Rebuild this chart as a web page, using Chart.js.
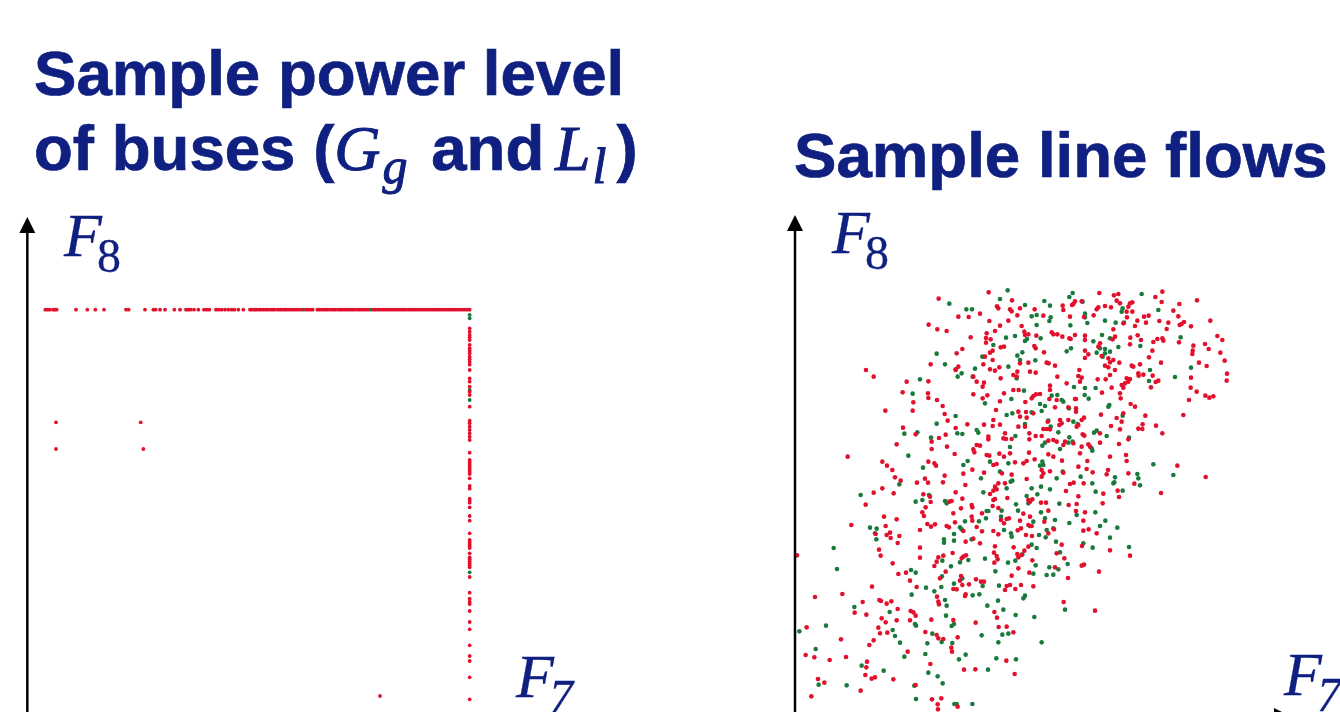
<!DOCTYPE html>
<html>
<head>
<meta charset="utf-8">
<title>Sample power level and line flows</title>
<script src="https://cdn.jsdelivr.net/npm/chart.js@4"></script>
<style>
    html, body { margin: 0; padding: 0; background: #fff; width: 1340px; height: 712px; overflow: hidden; }
    canvas { position: absolute; top: 200px; }
    #busChart { left: 0; }
    #flowChart { left: 780px; }
    .title, .axis-name { position: absolute; color: #0f2080; white-space: nowrap; }
    .title { font: bold 63.6px "Liberation Sans", sans-serif; line-height: 74px; -webkit-text-stroke: 0.7px #0f2080; }
    .title i, .axis-name { font-family: "Liberation Serif", serif; font-weight: normal; }
    .title i { font-style: italic; font-size: 64px; -webkit-text-stroke: 1px #0f2080; }
    .title i.first { margin-right: 6px; }
    .title i.second { margin-left: -7px; margin-right: 10px; }
    .title sub { font-size: 50px; line-height: 0; vertical-align: -13px; margin-left: 2px; }
    .axis-name { font-style: italic; font-size: 62px; line-height: 62px; -webkit-text-stroke: 0.3px #0f2080; }
    .axis-name sub { font-size: 48px; line-height: 0; vertical-align: -16px; margin-left: -5px; }
    .axis-name sub.up { font-style: normal; }
</style>
</head>
<body>
<div class="title" style="left:34px;top:36px">Sample power level</div>
<div class="title" style="left:34px;top:111px">of buses (<i class="first">G<sub>g</sub></i> and <i class="second">L<sub>l</sub></i>)</div>
<div class="title" style="left:794px;top:118px">Sample line flows</div>
<canvas id="busChart" width="780" height="512"></canvas>
<canvas id="flowChart" width="560" height="512"></canvas>
<div class="axis-name" style="left:64px;top:204px">F<sub class="up">8</sub></div>
<div class="axis-name" style="left:832px;top:201px">F<sub class="up">8</sub></div>
<div class="axis-name" style="left:516px;top:645px">F<sub>7</sub></div>
<div class="axis-name" style="left:1284px;top:643px">F<sub>7</sub></div>
<script>
// Bus power levels: most samples sit on the F8 limit (top row) or the F7 limit (right column)
const busLimitF7 = 1409;
const busLimitF8 = 1207;
const busTopRowX = [136, 143, 150, 160, 165, 170, 228, 262, 286, 312, 378, 386, 435, 460, 467, 480, 495, 523, 540, 558, 565, 572, 582, 595, 612, 620, 628, 648, 656, 665, 675, 685, 695, 703, 715, 730,
    750, 756, 763, 769, 776, 782, 790, 797, 803, 811, 818, 824, 833, 840, 846, 853, 859, 866, 874, 881, 888, 895, 903, 918, 925, 932, 938, 952, 958, 965, 972, 979, 985, 993, 1000, 1006, 1014, 1021, 1027, 1034, 1041, 1048, 1055, 1061, 1069, 1076, 1083, 1090, 1097, 1104,
    1120, 1127, 1134, 1140, 1148, 1155, 1162, 1169, 1176, 1183, 1190, 1197, 1204, 1211, 1218, 1226, 1233, 1240, 1247, 1254, 1261, 1268, 1276, 1283, 1290, 1297, 1304, 1311, 1318, 1325, 1332, 1339, 1346, 1353, 1360, 1367, 1374, 1381, 1388, 1395, 1402, 1409];
const busRightColY = [1151, 1141, 1131, 1124, 1116, 1101, 1091, 1084, 1076, 1066, 1058, 1050, 1042, 1026, 1001, 991, 976, 961, 951, 916, 874, 866, 856, 846, 836, 826, 816, 778, 756,
    750, 744, 738, 732, 726, 720, 714, 701, 678, 670, 640, 634, 628, 614, 588, 574, 536, 516, 510, 504, 498, 492, 476, 464, 458, 452, 446, 440, 434, 405, 358, 340, 331, 324, 303, 270, 248, 200, 168, 153, 104, 38];
const busGreenTopX = [910, 1112];
const busGreenRightY = [1191, 1181, 966, 936, 419];
const busOtherRed = [[168, 869], [422, 869], [168, 789], [430, 789], [1140, 48]];

// Line flows, red samples
const flowRed = [
    [626,1259],[476,1240],[1147,1261],[958,1257],[1015,1254],[1002,1250],[1126,1245],[696,1235],[1145,1230],[1251,1235],[1198,1224],[1010,1234],[1020,1226],[1057,1229],[1050,1226],[905,1232],[885,1232],[880,1224],[848,1219],[876,1221],
    [651,1217],[655,1211],[690,1208],[695,1202],[720,1211],[764,1208],[850,1206],[955,1214],[950,1208],[993,1214],[975,1218],[1045,1216],[1057,1201],[1040,1201],[1180,1204],[535,1186],[566,1185],[600,1195],[712,1190],[790,1189],
    [870,1186],[912,1185],[941,1190],[1092,1186],[1106,1189],[1195,1187],[1041,1184],[1291,1174],[685,1174],[628,1173],[660,1159],[446,1162],[472,1148],[500,1143],[645,1143],[725,1158],[733,1141],[1065,1158],[1072,1174],[1098,1168],
    [1138,1173],[1165,1168],[1160,1149],[1205,1164],[1212,1170],[1199,1161],[1233,1157],[1000,1148],[1030,1166],[815,1139],[820,1133],[832,1133],[847,1126],[885,1131],[868,1121],[915,1129],[915,1116],[735,1131],[745,1133],[769,1129],
    [572,1124],[620,1136],[618,1122],[632,1118],[618,1108],[1051,1123],[1073,1130],[1050,1103],[1083,1116],[1120,1110],[1132,1119],[1147,1121],[1150,1114],[1197,1109],[1240,1099],[1238,1084],[1237,1074],[1312,1128],[1327,1116],[1275,1104],
    [1286,1089],[1321,1078],[1334,1054],[1280,1038],[1257,1048],[1341,1015],[1340,994],[1233,1003],[1232,973],[1250,961],[1276,949],[1288,943],[1300,947],[1227,936],[1210,891],[1143,1048],[1107,1064],[1117,1084],[1080,1043],[1075,1016],
    [1076,1009],[1090,1012],[1118,1009],[1135,994],[1127,990],[1113,974],[1055,1039],[1060,1036],[1018,1048],[1005,1026],[985,1061],[990,1049],[1000,1056],[975,1039],[985,1034],[990,1011],[977,998],[953,998],[898,1026],[895,1008],
    [905,1003],[900,991],[860,986],[810,979],[810,966],[832,1006],[915,1084],[925,1073],[915,1062],[960,1106],[955,1096],[965,1068],[872,1119],[1005,1126],[998,1118],[1050,999],[1040,1001],[1035,986],[1025,981],[1030,973],
    [1045,991],[1022,941],[1020,956],[995,973],[966,958],[888,939],[768,953],[760,948],[755,941],[780,954],[736,930],[716,966],[700,966],[672,956],[622,950],[608,941],[580,953],[660,932],[612,988],[608,976],
    [590,991],[580,1006],[662,1001],[700,1011],[712,1021],[750,1021],[767,1018],[710,1006],[720,1046],[745,1048],[800,1048],[806,1046],[825,1039],[767,1091],[763,1098],[792,1079],[662,1094],[672,1096],[638,1084],[630,1078],
    [615,1066],[638,1056],[610,1043],[630,1028],[645,1024],[658,1034],[530,1076],[547,1089],[452,1043],[445,992],[380,991],[368,959],[444,956],[445,942],[400,929],[398,904],[471,936],[488,918],[494,894],[503,874],
    [316,904],[258,1026],[281,1006],[527,1026],[535,1036],[648,906],[660,862],[640,876],[612,862],[638,858],[562,863],[527,852],[497,832],[477,822],[455,811],[455,789],[501,796],[350,803],[369,853],[407,833],
    [203,766],[625,826],[625,818],[590,801],[600,799],[580,788],[583,779],[620,771],[628,769],[658,775],[672,766],[690,776],[747,778],[805,773],[820,766],[1038,771],[900,776],[990,766],[1017,804],[1045,818],
    [1088,863],[1087,849],[1075,850],[1128,859],[1147,836],[1096,889],[1065,916],[1052,924],[1030,896],[1010,882],[1025,871],[1020,848],[993,858],[963,892],[960,836],[960,808],[908,833],[913,829],[925,803],[930,796],
    [905,796],[880,806],[855,811],[850,801],[830,811],[820,816],[805,814],[785,828],[767,828],[748,818],[748,836],[715,856],[740,883],[715,901],[720,886],[738,900],[760,896],[825,914],[865,914],[888,911],
    [888,901],[905,876],[912,883],[895,861],[890,856],[865,876],[840,876],[838,861],[845,866],[803,871],[800,849],[810,848],[790,849],[675,836],[670,821],[678,819],[695,819],[830,936],[808,939],[885,939],[735,856],
    [307,751],[321,739],[337,726],[345,704],[362,694],[411,688],[435,700],[444,688],[445,751],[463,746],[468,739],[524,774],[705,749],[730,746],[740,753],[764,758],[846,754],[640,741],[650,744],[577,727],
    [550,715],[494,709],[489,689],[612,718],[666,716],[695,712],[740,699],[785,726],[790,716],[785,706],[810,722],[850,718],[1040,753],[922,753],[895,736],[920,729],[938,719],[984,726],[980,713],[1045,716],
    [1063,685],[1192,739],[1277,705],[1143,657],[1017,645],[1013,664],[968,626],[970,655],[895,647],[881,688],[870,684],[911,686],[858,663],[890,624],[866,621],[915,599],[888,603],[910,574],[910,544],[926,548],
    [950,536],[906,498],[990,485],[1050,469],[957,421],[945,304],[912,442],[905,439],[864,402],[851,330],[845,502],[830,476],[853,461],[825,434],[760,377],[723,381],[706,369],[690,381],[680,378],[675,366],
    [695,409],[748,418],[757,455],[715,431],[715,464],[712,474],[725,471],[733,484],[745,496],[701,494],[645,497],[642,478],[650,468],[653,458],[643,448],[600,506],[557,511],[580,520],[420,493],[420,463],
    [518,477],[490,469],[475,464],[470,451],[463,438],[550,466],[558,470],[545,461],[338,446],[355,414],[378,418],[390,394],[410,375],[480,401],[497,421],[543,408],[540,394],[547,381],[567,383],[588,398],
    [603,391],[612,391],[520,369],[530,368],[555,348],[557,353],[471,346],[475,331],[477,323],[276,376],[187,354],[105,345],[248,330],[298,336],[303,333],[320,325],[334,332],[224,298],[259,292],[353,309],
    [392,303],[400,299],[407,289],[454,277],[390,275],[350,275],[305,281],[317,269],[295,253],[300,236],[322,238],[436,240],[470,231],[475,221],[490,219],[533,224],[520,276],[587,268],[643,300],[651,283],
    [656,255],[680,256],[700,239],[80,254],[183,218],[281,215],[268,201],[383,181],[77,171],[103,164],[149,156],[198,165],[261,151],[259,134],[256,111],[275,100],[285,104],[340,98],[114,99],[133,88],
    [94,47],[242,64],[451,144],[552,127],[586,128],[679,154],[704,114],[516,181],[514,193],[407,81],[456,38],[484,41],[473,23],[474,8],[533,16],[297,487],[302,469],[51,470],[214,561],[257,622],
    [281,658],[307,671],[341,656],[312,586],[350,578],[317,558],[287,534],[330,538],[320,531],[332,522],[358,528],[353,507],[430,653],[437,614],[427,599],[432,588],[442,564],[453,556],[465,563],[420,546],
    [450,646],[452,630],[527,659],[547,640],[515,633],[508,631],[556,681],[575,621],[577,614],[543,611],[520,596],[500,558],[507,554],[525,569],[550,543],[575,586],[577,574],[606,596],[590,555],[606,542],
    [640,543],[655,533],[640,636],[645,639],[650,668],[645,676],[640,664],[630,654],[655,686],[675,686],[682,642],[638,618],[655,612],[663,576],[672,566],[680,579],[687,581],[720,574],[730,595],[750,586],
    [723,551],[713,545],[745,561],[755,558],[738,531],[756,528],[745,636],[750,631],[757,638],[783,628],[798,628],[805,604],[793,571],[805,536],[822,548]
];

// Line flows, green samples
const flowGreen = [
    [683,1265],[878,1257],[868,1245],[1085,1254],[660,1239],[508,1225],[559,1208],[576,1208],[735,1221],[793,1233],[810,1219],[908,1231],[1028,1211],[1025,1201],[1135,1206],[915,1195],[915,1184],[770,1191],[755,1187],[812,1184],
    [808,1173],[770,1161],[871,1160],[922,1167],[975,1174],[1007,1168],[1032,1168],[705,1128],[678,1123],[741,1119],[735,1113],[782,1121],[966,1131],[990,1121],[1202,1124],[640,1101],[470,1075],[495,1043],[1015,1095],[1081,1098],
    [940,1112],[960,1091],[975,1089],[990,1081],[975,1076],[968,1066],[950,1078],[873,1091],[860,1082],[727,1079],[712,1069],[720,1056],[766,1055],[607,1066],[685,1036],[585,1030],[527,1028],[545,1016],[533,1006],[578,1006],
    [420,998],[710,1001],[1110,1026],[1107,993],[1185,1005],[1233,1033],[882,975],[915,972],[947,972],[914,951],[926,940],[732,964],[694,939],[615,926],[398,955],[815,949],[832,951],[850,931],[845,936],[867,911],
    [780,924],[795,918],[785,903],[755,899],[697,896],[680,891],[527,888],[470,865],[988,921],[985,916],[1028,889],[805,874],[880,871],[893,864],[812,856],[735,864],[590,846],[595,838],[532,836],[547,834],
    [412,839],[373,835],[453,823],[706,828],[835,839],[868,824],[878,811],[865,808],[795,808],[787,799],[950,844],[942,838],[980,828],[1047,823],[690,795],[840,789],[935,791],[937,784],[385,769],
    [429,733],[550,741],[563,753],[630,751],[685,746],[660,721],[787,751],[790,741],[780,739],[848,721],[830,701],[902,706],[937,686],[1005,704],[1003,689],[1000,686],[1072,714],[1075,701],[1080,680],[1120,743],
    [1180,711],[1028,664],[947,661],[810,668],[783,676],[755,671],[772,653],[740,648],[745,626],[708,623],[714,604],[783,599],[838,625],[890,591],[946,599],[976,574],[960,558],[1012,553],[990,523],[1047,495],
    [938,493],[910,506],[868,567],[825,576],[795,581],[760,571],[750,558],[800,546],[820,551],[797,524],[777,531],[693,536],[695,526],[672,546],[620,603],[625,603],[665,604],[663,586],[618,581],[597,572],
    [555,572],[540,554],[545,548],[522,534],[522,514],[492,518],[492,508],[575,518],[603,701],[610,659],[680,671],[697,694],[692,691],[358,683],[242,651],[407,631],[427,636],[447,651],[495,633],[500,626],
    [270,553],[290,550],[285,536],[289,518],[161,492],[171,429],[393,426],[407,418],[487,454],[513,437],[540,449],[565,456],[615,460],[646,422],[684,448],[706,454],[727,473],[755,502],[770,492],[828,511],
    [840,479],[767,440],[808,434],[835,428],[863,444],[760,415],[800,411],[820,412],[486,407],[547,401],[522,385],[484,375],[438,373],[463,362],[395,352],[608,378],[657,379],[578,350],[598,353],[495,336],
    [500,319],[622,319],[654,334],[670,307],[707,291],[763,285],[730,341],[735,349],[498,289],[405,264],[408,259],[515,258],[522,264],[138,259],[223,315],[329,300],[58,242],[338,246],[345,228],[360,208],
    [457,235],[442,206],[485,210],[517,207],[605,230],[667,232],[685,235],[655,209],[785,209],[107,189],[436,174],[373,166],[557,172],[537,158],[649,161],[708,158],[245,139],[311,124],[445,118],[473,107],
    [488,86],[624,127],[116,82],[200,80],[403,79],[408,39],[523,24],[530,24],[577,24],[855,307]
];

const red = '#e2102c';
const green = '#1a7a3e';

function toPoints(pairs) {
    return pairs.map(p => ({ x: p[0], y: p[1] }));
}

// Plain arrow-headed axes, drawn through the chart scales
function axesPlugin(originX, originY, yTip, xTip) {
    return {
        id: 'arrowAxes',
        afterDraw(chart) {
            const { ctx, scales } = chart;
            const x0 = scales.x.getPixelForValue(originX);
            const y0 = scales.y.getPixelForValue(originY);
            const top = scales.y.getPixelForValue(yTip);
            ctx.save();
            ctx.strokeStyle = '#000';
            ctx.fillStyle = '#000';
            ctx.lineWidth = 2.5;
            ctx.beginPath();
            ctx.moveTo(x0, chart.height + 10);
            ctx.lineTo(x0, top + 10);
            ctx.stroke();
            ctx.beginPath();
            ctx.moveTo(x0, top);
            ctx.lineTo(x0 - 8, top + 16);
            ctx.lineTo(x0 + 8, top + 16);
            ctx.closePath();
            ctx.fill();
            if (xTip) {
                const right = scales.x.getPixelForValue(xTip);
                ctx.beginPath();
                ctx.moveTo(x0, y0);
                ctx.lineTo(right - 10, y0);
                ctx.stroke();
                ctx.beginPath();
                ctx.moveTo(right, y0);
                ctx.lineTo(right - 16, y0 - 8);
                ctx.lineTo(right - 16, y0 + 8);
                ctx.closePath();
                ctx.fill();
            }
            ctx.restore();
        }
    };
}

function scatter(id, xMax, datasets, plugin) {
    return new Chart(document.getElementById(id), {
        type: 'scatter',
        data: { datasets },
        options: {
            responsive: false,
            animation: false,
            layout: { padding: 0, autoPadding: false },
            plugins: { legend: { display: false }, tooltip: { enabled: false } },
            scales: {
                x: { type: 'linear', display: false, min: 0, max: xMax },
                y: { type: 'linear', display: false, min: 0, max: 1536 }
            }
        },
        plugins: [plugin]
    });
}

function dots(data, color, radius) {
    return { data, backgroundColor: color, borderWidth: 0, pointRadius: radius, clip: false };
}

const busRed = [
    ...busTopRowX.map(x => ({ x, y: busLimitF8 })),
    ...busRightColY.map(y => ({ x: busLimitF7, y })),
    ...toPoints(busOtherRed)
];
const busGreen = [
    ...busGreenTopX.map(x => ({ x, y: busLimitF8 })),
    ...busGreenRightY.map(y => ({ x: busLimitF7, y }))
];

scatter('busChart', 2340, [dots(busRed, red, 1.9), dots(busGreen, green, 1.9)], axesPlugin(82, 1536, 1485));
scatter('flowChart', 1680, [dots(toPoints(flowRed), red, 2.3), dots(toPoints(flowGreen), green, 2.3)], axesPlugin(45, -12, 1491, 1530));
</script>
</body>
</html>
